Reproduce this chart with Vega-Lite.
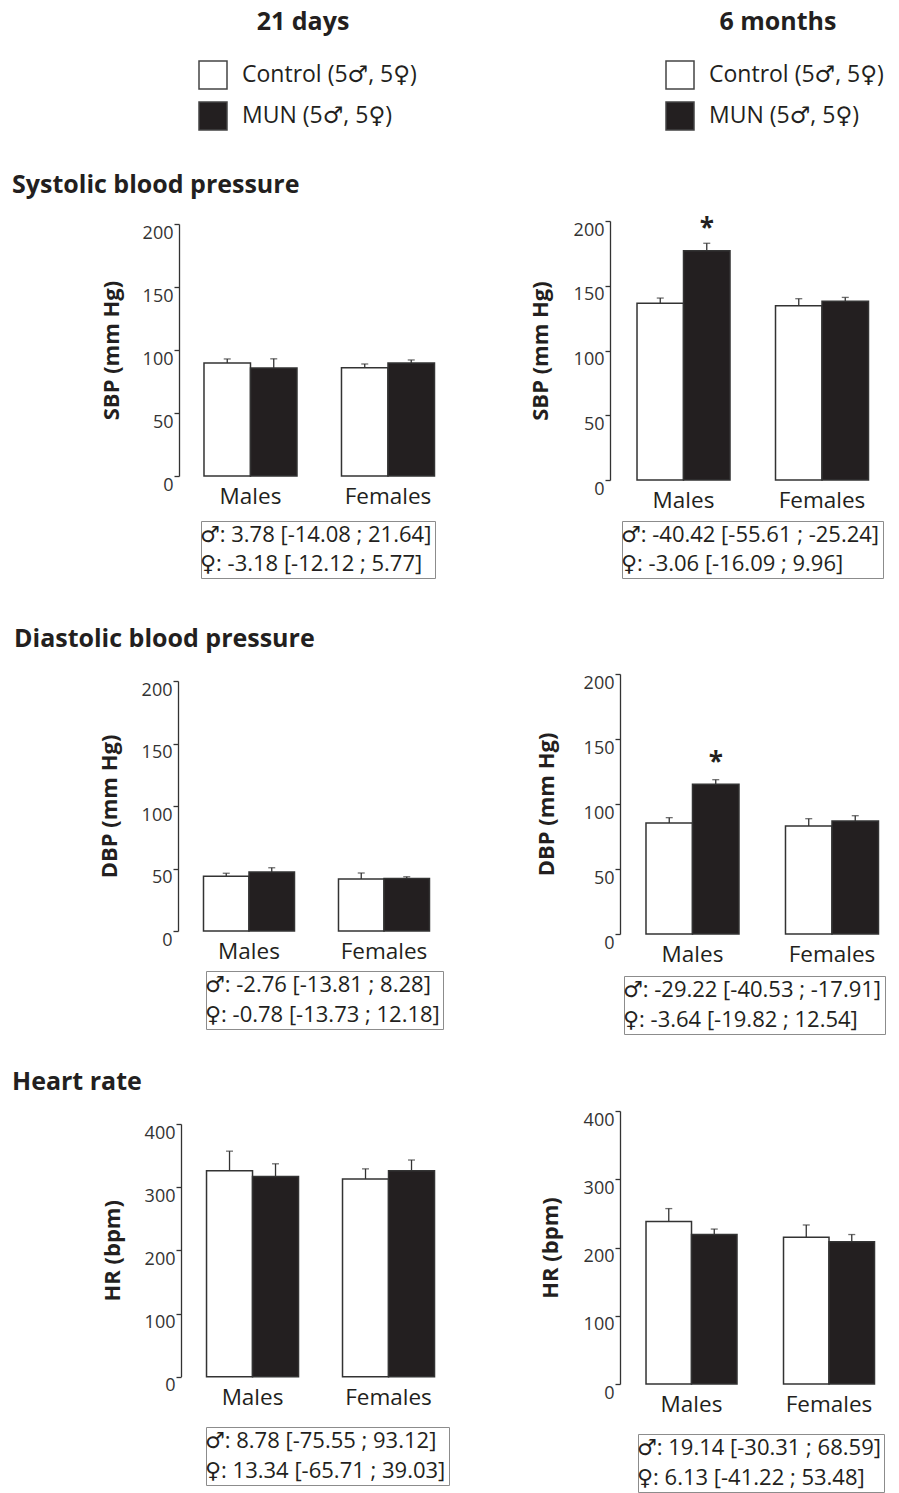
{
  "$schema": "https://vega.github.io/schema/vega-lite/v6.json",
  "background": "white",
  "autosize": {"type": "pad"},
  "padding": {"left": 12, "top": 10, "right": 0, "bottom": 0},
  "datasets": {
    "sbp21": [
      {"sex": "Males", "group": "Control", "mean": 89.7, "upper": 92.9, "sig": ""},
      {"sex": "Males", "group": "MUN", "mean": 85.7, "upper": 93, "sig": ""},
      {"sex": "Females", "group": "Control", "mean": 85.9, "upper": 88.9, "sig": ""},
      {"sex": "Females", "group": "MUN", "mean": 89.7, "upper": 92.1, "sig": ""}
    ],
    "sbp6m": [
      {"sex": "Males", "group": "Control", "mean": 136.4, "upper": 140.5, "sig": ""},
      {"sex": "Males", "group": "MUN", "mean": 177, "upper": 182.8, "sig": "*"},
      {"sex": "Females", "group": "Control", "mean": 134.6, "upper": 140, "sig": ""},
      {"sex": "Females", "group": "MUN", "mean": 138, "upper": 141, "sig": ""}
    ],
    "dbp21": [
      {"sex": "Males", "group": "Control", "mean": 43.8, "upper": 46.2, "sig": ""},
      {"sex": "Males", "group": "MUN", "mean": 47.2, "upper": 50.6, "sig": ""},
      {"sex": "Females", "group": "Control", "mean": 41.6, "upper": 46.4, "sig": ""},
      {"sex": "Females", "group": "MUN", "mean": 42.1, "upper": 43.4, "sig": ""}
    ],
    "dbp6m": [
      {"sex": "Males", "group": "Control", "mean": 85.4, "upper": 89.5, "sig": ""},
      {"sex": "Males", "group": "MUN", "mean": 115.1, "upper": 118.7, "sig": "*"},
      {"sex": "Females", "group": "Control", "mean": 83, "upper": 88.7, "sig": ""},
      {"sex": "Females", "group": "MUN", "mean": 86.9, "upper": 91, "sig": ""}
    ],
    "hr21": [
      {"sex": "Males", "group": "Control", "mean": 326, "upper": 357, "sig": ""},
      {"sex": "Males", "group": "MUN", "mean": 317, "upper": 337, "sig": ""},
      {"sex": "Females", "group": "Control", "mean": 313, "upper": 329, "sig": ""},
      {"sex": "Females", "group": "MUN", "mean": 326, "upper": 343, "sig": ""}
    ],
    "hr6m": [
      {"sex": "Males", "group": "Control", "mean": 238, "upper": 257, "sig": ""},
      {"sex": "Males", "group": "MUN", "mean": 219, "upper": 227, "sig": ""},
      {"sex": "Females", "group": "Control", "mean": 215, "upper": 233, "sig": ""},
      {"sex": "Females", "group": "MUN", "mean": 208.5, "upper": 219, "sig": ""}
    ],
    "ci_sbp21": [{"sex": "♂", "label": "♂: 3.78 [-14.08 ; 21.64]"}, {"sex": "♀", "label": "♀: -3.18 [-12.12 ; 5.77]"}],
    "ci_sbp6m": [{"sex": "♂", "label": "♂: -40.42 [-55.61 ; -25.24]"}, {"sex": "♀", "label": "♀: -3.06 [-16.09 ; 9.96]"}],
    "ci_dbp21": [{"sex": "♂", "label": "♂: -2.76 [-13.81 ; 8.28]"}, {"sex": "♀", "label": "♀: -0.78 [-13.73 ; 12.18]"}],
    "ci_dbp6m": [{"sex": "♂", "label": "♂: -29.22 [-40.53 ; -17.91]"}, {"sex": "♀", "label": "♀: -3.64 [-19.82 ; 12.54]"}],
    "ci_hr21": [{"sex": "♂", "label": "♂: 8.78 [-75.55 ; 93.12]"}, {"sex": "♀", "label": "♀: 13.34 [-65.71 ; 39.03]"}],
    "ci_hr6m": [{"sex": "♂", "label": "♂: 19.14 [-30.31 ; 68.59]"}, {"sex": "♀", "label": "♀: 6.13 [-41.22 ; 53.48]"}]
  },
  "concat": [
    {
      "width": 272, "height": 255,
      "title": {"text": "21 days", "anchor": "middle", "frame": "group", "dx": -14, "offset": 5, "fontSize": 25, "baseline": "alphabetic"},
      "layer": [
        {"data": {"name": "sbp21"}, "mark": {"type": "rule", "color": "#333", "strokeWidth": 1.3},
         "encoding": {
           "x": {"field": "sex", "type": "nominal", "sort": ["Males", "Females"], "scale": {"paddingInner": 0.3236, "paddingOuter": 0.1509, "align": 0.554}, "axis": {"title": null}},
           "xOffset": {"field": "group", "type": "nominal", "sort": ["Control", "MUN"], "scale": {"paddingInner": 0, "paddingOuter": 0}},
           "y": {"field": "mean", "type": "quantitative", "scale": {"domain": [0, 200], "nice": false, "range": [255, 3]}, "axis": {"title": "SBP (mm Hg)", "values": [0, 50, 100, 150, 200], "offset": 2, "titlePadding": 19}},
           "y2": {"field": "upper"}}},
        {"data": {"name": "sbp21"}, "mark": {"type": "tick", "orient": "horizontal", "size": 7, "thickness": 1.3, "color": "#333"},
         "encoding": {
           "x": {"field": "sex", "type": "nominal", "sort": ["Males", "Females"]},
           "xOffset": {"field": "group", "type": "nominal", "sort": ["Control", "MUN"]},
           "y": {"field": "upper", "type": "quantitative"}}},
        {"data": {"name": "sbp21"}, "mark": {"type": "bar", "stroke": "#333", "strokeWidth": 1.5},
         "encoding": {
           "x": {"field": "sex", "type": "nominal", "sort": ["Males", "Females"]},
           "xOffset": {"field": "group", "type": "nominal", "sort": ["Control", "MUN"]},
           "y": {"field": "mean", "type": "quantitative"},
           "fill": {"field": "group", "type": "nominal", "scale": {"domain": ["Control", "MUN"], "range": ["#ffffff", "#231f20"]},
             "legend": {"orient": "none", "legendX": -169, "legendY": -161, "padding": 0,
               "title": "Systolic blood pressure", "titleOrient": "bottom", "titleAnchor": "start", "titleFontSize": 25, "titleFontWeight": "bold", "titleColor": "#231f20", "titlePadding": 40, "titleLimit": 500,
               "symbolType": "square", "symbolSize": 784, "symbolStrokeColor": "#444", "symbolStrokeWidth": 1.5, "symbolOffset": 186,
               "labelFontSize": 23, "labelOffset": 14, "labelColor": "#231f20", "labelLimit": 500, "rowPadding": 7,
               "labelExpr": "datum.label + ' (5♂, 5♀)'"}}}},
        {"data": {"name": "ci_sbp21"}, "mark": {"type": "point", "opacity": 0},
         "encoding": {"shape": {"field": "label", "type": "nominal", "sort": null,
           "legend": {"orient": "none", "legendX": 20, "legendY": 300, "title": null, "strokeColor": "#8c8c8c", "padding": 3, "symbolOpacity": 0, "symbolSize": 0, "symbolStrokeWidth": 0, "labelFontSize": 22, "labelOffset": -26, "labelLimit": 500, "rowPadding": 7, "labelColor": "#231f20"}}}}
      ]
    },
    {"data": {"values": []}, "mark": {"type": "point", "opacity": 0}, "width": 1, "height": 276},
    {
      "width": 272, "height": 259,
      "title": {"text": "6 months", "anchor": "middle", "frame": "group", "dx": 22, "offset": 5, "fontSize": 25, "baseline": "alphabetic"},
      "layer": [
        {"data": {"name": "sbp6m"}, "mark": {"type": "rule", "color": "#333", "strokeWidth": 1.3},
         "encoding": {
           "x": {"field": "sex", "type": "nominal", "sort": ["Males", "Females"], "scale": {"paddingInner": 0.3285, "paddingOuter": 0.1462, "align": 0.42}, "axis": {"title": null}},
           "xOffset": {"field": "group", "type": "nominal", "sort": ["Control", "MUN"], "scale": {"paddingInner": 0, "paddingOuter": 0}},
           "y": {"field": "mean", "type": "quantitative", "scale": {"domain": [0, 200], "nice": false}, "axis": {"title": "SBP (mm Hg)", "values": [0, 50, 100, 150, 200], "offset": 10, "titlePadding": 21}},
           "y2": {"field": "upper"}}},
        {"data": {"name": "sbp6m"}, "mark": {"type": "tick", "orient": "horizontal", "size": 7, "thickness": 1.3, "color": "#333"},
         "encoding": {
           "x": {"field": "sex", "type": "nominal", "sort": ["Males", "Females"]},
           "xOffset": {"field": "group", "type": "nominal", "sort": ["Control", "MUN"]},
           "y": {"field": "upper", "type": "quantitative"}}},
        {"data": {"name": "sbp6m"}, "mark": {"type": "bar", "stroke": "#333", "strokeWidth": 1.5},
         "encoding": {
           "x": {"field": "sex", "type": "nominal", "sort": ["Males", "Females"]},
           "xOffset": {"field": "group", "type": "nominal", "sort": ["Control", "MUN"]},
           "y": {"field": "mean", "type": "quantitative"},
           "fill": {"field": "group", "type": "nominal", "scale": {"domain": ["Control", "MUN"], "range": ["#ffffff", "#231f20"]},
             "legend": {"orient": "none", "legendX": 45, "legendY": -161, "padding": 0, "title": null,
               "symbolType": "square", "symbolSize": 784, "symbolStrokeColor": "#444", "symbolStrokeWidth": 1.5,
               "labelFontSize": 23, "labelOffset": 14, "labelColor": "#231f20", "labelLimit": 500, "rowPadding": 7,
               "labelExpr": "datum.label + ' (5♂, 5♀)'"}}}},
        {"data": {"name": "sbp6m"}, "transform": [{"filter": "datum.sig == '*'"}],
         "mark": {"type": "text", "fontSize": 26, "fontWeight": "bold", "color": "#231f20", "baseline": "alphabetic", "dy": -6},
         "encoding": {
           "x": {"field": "sex", "type": "nominal", "sort": ["Males", "Females"]},
           "xOffset": {"field": "group", "type": "nominal", "sort": ["Control", "MUN"]},
           "y": {"field": "upper", "type": "quantitative"},
           "text": {"field": "sig"}}},
        {"data": {"name": "ci_sbp6m"}, "mark": {"type": "point", "opacity": 0},
         "encoding": {"shape": {"field": "label", "type": "nominal", "sort": null,
           "legend": {"orient": "none", "legendX": 2, "legendY": 300, "title": null, "strokeColor": "#8c8c8c", "padding": 3, "symbolOpacity": 0, "symbolSize": 0, "symbolStrokeWidth": 0, "labelFontSize": 22, "labelOffset": -26, "labelLimit": 500, "rowPadding": 7, "labelColor": "#231f20"}}}}
      ]
    },
    {
      "width": 272, "height": 257,
      "title": {"text": "Diastolic blood pressure", "anchor": "start", "frame": "group", "dx": -167, "offset": 2, "fontSize": 25, "baseline": "alphabetic"},
      "layer": [
        {"data": {"name": "dbp21"}, "mark": {"type": "rule", "color": "#333", "strokeWidth": 1.3},
         "encoding": {
           "x": {"field": "sex", "type": "nominal", "sort": ["Males", "Females"], "scale": {"paddingInner": 0.3259, "paddingOuter": 0.1704, "align": 0.489}, "axis": {"title": null}},
           "xOffset": {"field": "group", "type": "nominal", "sort": ["Control", "MUN"], "scale": {"paddingInner": 0, "paddingOuter": 0}},
           "y": {"field": "mean", "type": "quantitative", "scale": {"domain": [0, 200], "nice": false, "range": [257, 7]}, "axis": {"title": "DBP (mm Hg)", "values": [0, 50, 100, 150, 200], "offset": 3, "titlePadding": 20}},
           "y2": {"field": "upper"}}},
        {"data": {"name": "dbp21"}, "mark": {"type": "tick", "orient": "horizontal", "size": 7, "thickness": 1.3, "color": "#333"},
         "encoding": {
           "x": {"field": "sex", "type": "nominal", "sort": ["Males", "Females"]},
           "xOffset": {"field": "group", "type": "nominal", "sort": ["Control", "MUN"]},
           "y": {"field": "upper", "type": "quantitative"}}},
        {"data": {"name": "dbp21"}, "mark": {"type": "bar", "stroke": "#333", "strokeWidth": 1.5},
         "encoding": {
           "x": {"field": "sex", "type": "nominal", "sort": ["Males", "Females"]},
           "xOffset": {"field": "group", "type": "nominal", "sort": ["Control", "MUN"]},
           "y": {"field": "mean", "type": "quantitative"},
           "fill": {"field": "group", "type": "nominal", "scale": {"domain": ["Control", "MUN"], "range": ["#ffffff", "#231f20"]}, "legend": null}}},
        {"data": {"name": "ci_dbp21"}, "mark": {"type": "point", "opacity": 0},
         "encoding": {"shape": {"field": "label", "type": "nominal", "sort": null,
           "legend": {"orient": "none", "legendX": 25, "legendY": 297, "title": null, "strokeColor": "#8c8c8c", "padding": 3, "symbolOpacity": 0, "symbolSize": 0, "symbolStrokeWidth": 0, "labelFontSize": 22, "labelOffset": -26, "labelLimit": 500, "rowPadding": 8, "labelColor": "#231f20"}}}}
      ]
    },
    {"data": {"values": []}, "mark": {"type": "point", "opacity": 0}, "width": 1, "height": 260},
    {
      "width": 272, "height": 260,
      "layer": [
        {"data": {"name": "dbp6m"}, "mark": {"type": "rule", "color": "#333", "strokeWidth": 1.3},
         "encoding": {
           "x": {"field": "sex", "type": "nominal", "sort": ["Males", "Females"], "scale": {"paddingInner": 0.3333, "paddingOuter": 0.1416, "align": 0.658}, "axis": {"title": null}},
           "xOffset": {"field": "group", "type": "nominal", "sort": ["Control", "MUN"], "scale": {"paddingInner": 0, "paddingOuter": 0}},
           "y": {"field": "mean", "type": "quantitative", "scale": {"domain": [0, 200], "nice": false}, "axis": {"title": "DBP (mm Hg)", "values": [0, 50, 100, 150, 200], "titlePadding": 25}},
           "y2": {"field": "upper"}}},
        {"data": {"name": "dbp6m"}, "mark": {"type": "tick", "orient": "horizontal", "size": 7, "thickness": 1.3, "color": "#333"},
         "encoding": {
           "x": {"field": "sex", "type": "nominal", "sort": ["Males", "Females"]},
           "xOffset": {"field": "group", "type": "nominal", "sort": ["Control", "MUN"]},
           "y": {"field": "upper", "type": "quantitative"}}},
        {"data": {"name": "dbp6m"}, "mark": {"type": "bar", "stroke": "#333", "strokeWidth": 1.5},
         "encoding": {
           "x": {"field": "sex", "type": "nominal", "sort": ["Males", "Females"]},
           "xOffset": {"field": "group", "type": "nominal", "sort": ["Control", "MUN"]},
           "y": {"field": "mean", "type": "quantitative"},
           "fill": {"field": "group", "type": "nominal", "scale": {"domain": ["Control", "MUN"], "range": ["#ffffff", "#231f20"]}, "legend": null}}},
        {"data": {"name": "dbp6m"}, "transform": [{"filter": "datum.sig == '*'"}],
         "mark": {"type": "text", "fontSize": 26, "fontWeight": "bold", "color": "#231f20", "baseline": "alphabetic", "dy": -9},
         "encoding": {
           "x": {"field": "sex", "type": "nominal", "sort": ["Males", "Females"]},
           "xOffset": {"field": "group", "type": "nominal", "sort": ["Control", "MUN"]},
           "y": {"field": "upper", "type": "quantitative"},
           "text": {"field": "sig"}}},
        {"data": {"name": "ci_dbp6m"}, "mark": {"type": "point", "opacity": 0},
         "encoding": {"shape": {"field": "label", "type": "nominal", "sort": null,
           "legend": {"orient": "none", "legendX": 4, "legendY": 302, "title": null, "strokeColor": "#8c8c8c", "padding": 3, "symbolOpacity": 0, "symbolSize": 0, "symbolStrokeWidth": 0, "labelFontSize": 22, "labelOffset": -26, "labelLimit": 500, "rowPadding": 8, "labelColor": "#231f20"}}}}
      ]
    },
    {
      "width": 272, "height": 266,
      "title": {"text": "Heart rate", "anchor": "start", "frame": "group", "dx": -169, "offset": -4, "fontSize": 25, "baseline": "alphabetic"},
      "layer": [
        {"data": {"name": "hr21"}, "mark": {"type": "rule", "color": "#333", "strokeWidth": 1.3},
         "encoding": {
           "x": {"field": "sex", "type": "nominal", "sort": ["Males", "Females"], "scale": {"paddingInner": 0.3235, "paddingOuter": 0.1618, "align": 0.58}, "axis": {"title": null}},
           "xOffset": {"field": "group", "type": "nominal", "sort": ["Control", "MUN"], "scale": {"paddingInner": 0, "paddingOuter": 0}},
           "y": {"field": "mean", "type": "quantitative", "scale": {"domain": [0, 400], "nice": false, "range": [265.7, 13]}, "axis": {"title": "HR (bpm)", "values": [0, 100, 200, 300, 400], "titlePadding": 20}},
           "y2": {"field": "upper"}}},
        {"data": {"name": "hr21"}, "mark": {"type": "tick", "orient": "horizontal", "size": 7, "thickness": 1.3, "color": "#333"},
         "encoding": {
           "x": {"field": "sex", "type": "nominal", "sort": ["Males", "Females"]},
           "xOffset": {"field": "group", "type": "nominal", "sort": ["Control", "MUN"]},
           "y": {"field": "upper", "type": "quantitative"}}},
        {"data": {"name": "hr21"}, "mark": {"type": "bar", "stroke": "#333", "strokeWidth": 1.5},
         "encoding": {
           "x": {"field": "sex", "type": "nominal", "sort": ["Males", "Females"]},
           "xOffset": {"field": "group", "type": "nominal", "sort": ["Control", "MUN"]},
           "y": {"field": "mean", "type": "quantitative"},
           "fill": {"field": "group", "type": "nominal", "scale": {"domain": ["Control", "MUN"], "range": ["#ffffff", "#231f20"]}, "legend": null}}},
        {"data": {"name": "ci_hr21"}, "mark": {"type": "point", "opacity": 0},
         "encoding": {"shape": {"field": "label", "type": "nominal", "sort": null,
           "legend": {"orient": "none", "legendX": 25, "legendY": 316, "title": null, "strokeColor": "#8c8c8c", "padding": 3, "symbolOpacity": 0, "symbolSize": 0, "symbolStrokeWidth": 0, "labelFontSize": 22, "labelOffset": -26, "labelLimit": 500, "rowPadding": 8, "labelColor": "#231f20"}}}}
      ]
    },
    {"data": {"values": []}, "mark": {"type": "point", "opacity": 0}, "width": 1, "height": 273},
    {
      "width": 272, "height": 273,
      "layer": [
        {"data": {"name": "hr6m"}, "mark": {"type": "rule", "color": "#333", "strokeWidth": 1.3},
         "encoding": {
           "x": {"field": "sex", "type": "nominal", "sort": ["Males", "Females"], "scale": {"paddingInner": 0.3382, "paddingOuter": 0.1582, "align": 0.598}, "axis": {"title": null}},
           "xOffset": {"field": "group", "type": "nominal", "sort": ["Control", "MUN"], "scale": {"paddingInner": 0, "paddingOuter": 0}},
           "y": {"field": "mean", "type": "quantitative", "scale": {"domain": [0, 400], "nice": false}, "axis": {"title": "HR (bpm)", "values": [0, 100, 200, 300, 400], "titlePadding": 21}},
           "y2": {"field": "upper"}}},
        {"data": {"name": "hr6m"}, "mark": {"type": "tick", "orient": "horizontal", "size": 7, "thickness": 1.3, "color": "#333"},
         "encoding": {
           "x": {"field": "sex", "type": "nominal", "sort": ["Males", "Females"]},
           "xOffset": {"field": "group", "type": "nominal", "sort": ["Control", "MUN"]},
           "y": {"field": "upper", "type": "quantitative"}}},
        {"data": {"name": "hr6m"}, "mark": {"type": "bar", "stroke": "#333", "strokeWidth": 1.5},
         "encoding": {
           "x": {"field": "sex", "type": "nominal", "sort": ["Males", "Females"]},
           "xOffset": {"field": "group", "type": "nominal", "sort": ["Control", "MUN"]},
           "y": {"field": "mean", "type": "quantitative"},
           "fill": {"field": "group", "type": "nominal", "scale": {"domain": ["Control", "MUN"], "range": ["#ffffff", "#231f20"]}, "legend": null}}},
        {"data": {"name": "ci_hr6m"}, "mark": {"type": "point", "opacity": 0},
         "encoding": {"shape": {"field": "label", "type": "nominal", "sort": null,
           "legend": {"orient": "none", "legendX": 18, "legendY": 323, "title": null, "strokeColor": "#8c8c8c", "padding": 3, "symbolOpacity": 0, "symbolSize": 0, "symbolStrokeWidth": 0, "labelFontSize": 22, "labelOffset": -26, "labelLimit": 500, "rowPadding": 8, "labelColor": "#231f20"}}}}
      ]
    }
  ],
  "columns": 3,
  "spacing": {"row": 177, "column": 83},
  "bounds": "flush",
  "align": "each",
  "center": false,
  "resolve": {
    "scale": {"x": "independent", "y": "independent", "xOffset": "independent", "fill": "independent", "shape": "independent"},
    "legend": {"fill": "independent", "shape": "independent"}
  },
  "config": {
    "font": "Open Sans, DejaVu Sans",
    "view": {"stroke": null},
    "title": {"font": "Open Sans, DejaVu Sans", "fontWeight": "bold", "color": "#231f20"},
    "axisY": {"grid": false, "domainColor": "#333", "domainWidth": 1.3, "tickColor": "#333", "tickWidth": 1.3, "tickSize": 5, "labelFont": "Open Sans, DejaVu Sans", "labelFontSize": 18, "labelColor": "#333", "labelPadding": 1, "labelBaseline": "top", "titleFont": "Open Sans, DejaVu Sans", "titleFontSize": 22, "titleFontWeight": "bold", "titleColor": "#231f20", "titlePadding": 16},
    "axisX": {"domain": false, "ticks": false, "grid": false, "labelFont": "Open Sans, DejaVu Sans", "labelFontSize": 22.5, "labelColor": "#231f20", "labelPadding": 9, "labelAngle": 0},
    "legend": {"labelFont": "Open Sans, DejaVu Sans", "titleFont": "Open Sans, DejaVu Sans"}
  }
}
